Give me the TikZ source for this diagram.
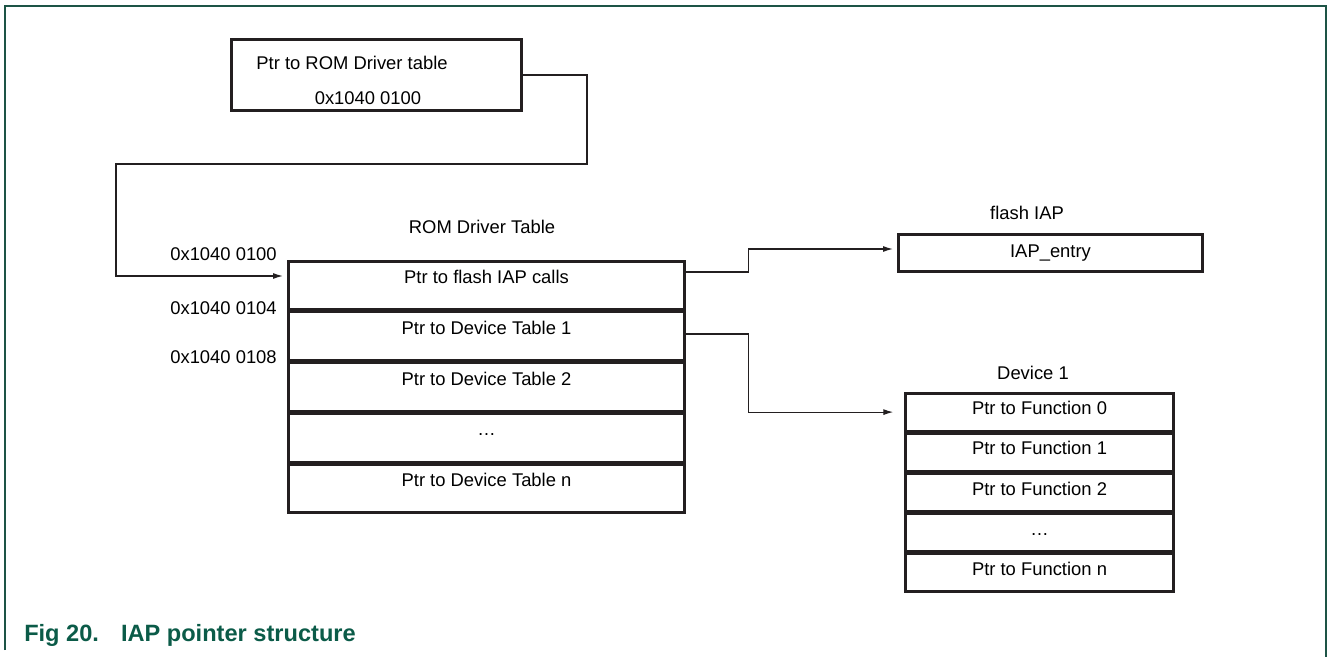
\documentclass[tikz,border=0pt]{standalone}
\usepackage{fontspec}
\setmainfont{Liberation Sans}
\usepackage{xcolor}
\definecolor{iapFrame}{HTML}{1D5446}
\definecolor{iapCaption}{HTML}{0B5B48}
\definecolor{iapLine}{HTML}{231F20}
\usetikzlibrary{arrows.meta,positioning}
\tikzset{
    cell/.style={
        draw=iapLine,
        line width=2pt,
        rectangle,
        inner sep=0pt,
        font=\fontsize{13.8}{16}\selectfont
    },
    romrow/.style={
        cell,
        minimum width=297.25pt,
        minimum height=36.1pt,
        text height=9.9pt,
        text depth=12.8pt
    },
    fnrow/.style={
        cell,
        minimum width=201.25pt,
        minimum height=28.15pt,
        text height=9.9pt,
        text depth=6pt
    },
    ptrbox/.style={
        cell,
        minimum width=217.75pt,
        minimum height=53.5pt
    },
    entry/.style={
        cell,
        minimum width=228.25pt,
        minimum height=28pt
    },
    tag/.style={
        font=\fontsize{13.8}{16}\selectfont,
        inner sep=0pt
    },
    link/.style={
        -{Latex[length=7.5pt,width=4.5pt]},
        line width=0.9pt,
        color=iapLine
    },
    caption/.style={
        font=\fontsize{17.7}{20}\selectfont\bfseries,
        color=iapCaption,
        anchor=base west,
        inner sep=0pt
    }
}

\begin{document}
\begin{tikzpicture}[x=0.75pt, y=-0.75pt]
    \useasboundingbox (0,0) rectangle (1328,657);
    % Frame
    \draw[iapFrame, line width=1.2pt] (5,650) -- (5,6) -- (1326,6) -- (1326,657);

    % Pointer to the ROM driver table
    \node[ptrbox] (ptr) at (376.5,75) {};
    \node[tag] (ptrtext) at (352,63) {Ptr to ROM Driver table};
    \node[tag] (ptraddr) at (368,98) {0x1040 0100};

    % ROM driver table
    \node[tag] (romtitle) at (482,227) {ROM Driver Table};
    \node[romrow] (r1) at (486.5,285.4) {Ptr to flash IAP calls};
    \node[romrow, below=0pt of r1] (r2) {Ptr to Device Table 1};
    \node[romrow, below=0pt of r2] (r3) {Ptr to Device Table 2};
    \node[romrow, below=0pt of r3] (r4) {\dots};
    \node[romrow, below=0pt of r4] (r5) {Ptr to Device Table n};

    % Addresses
    \node[tag, anchor=east] (addr0) at (277,254) {0x1040 0100};
    \node[tag, anchor=east] (addr4) at (277,308) {0x1040 0104};
    \node[tag, anchor=east] (addr8) at (277,357) {0x1040 0108};

    % flash IAP
    \node[tag] (iaptitle) at (1027,213) {flash IAP};
    \node[entry] (iap) at (1050.5,253) {IAP\_entry};

    % Device 1
    \node[tag] (devtitle) at (1033,373) {Device 1};
    \node[fnrow] (f0) at (1039.5,412.1) {Ptr to Function 0};
    \node[fnrow, below=0pt of f0] (f1) {Ptr to Function 1};
    \node[fnrow, below=0pt of f1] (f2) {Ptr to Function 2};
    \node[fnrow, below=0pt of f2] (f3) {\dots};
    \node[fnrow, below=0pt of f3] (f4) {Ptr to Function n};

    % Connections
    \coordinate (turn) at (116,276);
    \draw[link, shorten >=3pt] (ptr.east) -| (587,164) -| (turn) -- (turn -| r1.west);
    \draw[link, shorten >=3pt] ([yshift=10pt]r1.east) -- ++(47pt,0) |- ([yshift=3pt]iap.west);
    \draw[link, shorten >=8pt] ([yshift=1.6pt]r2.east) -- ++(47pt,0) |- (f0.west);

    % Caption
    \node[caption] (figcap) at (24,641) {Fig 20.\hspace{16.5pt}IAP pointer structure};
\end{tikzpicture}
\end{document}
